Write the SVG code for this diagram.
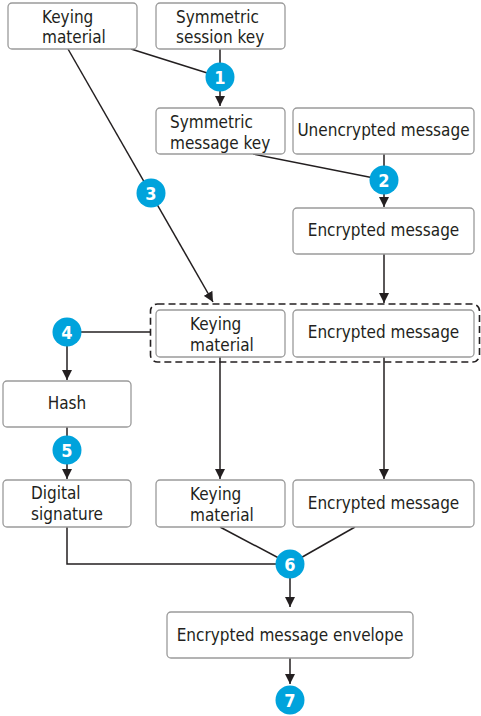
<svg xmlns="http://www.w3.org/2000/svg" width="481" height="716" viewBox="0 0 481 716">
<style>
.box{fill:#fff;stroke:#9a9a9a;stroke-width:1.3}
.t{font-family:"DejaVu Sans Condensed","Liberation Sans",Arial,sans-serif;font-stretch:condensed;font-size:17px;fill:#231f20}
.c{fill:#00a3dc}
.n{font-family:"DejaVu Sans Condensed","Liberation Sans",Arial,sans-serif;font-stretch:condensed;font-size:18px;font-weight:bold;fill:#fff;text-anchor:middle}
.ln{fill:none;stroke:#231f20;stroke-width:1.5}
.dash{fill:none;stroke:#231f20;stroke-width:1.6;stroke-dasharray:7 4}
</style>
<defs>
<marker id="ah" markerUnits="userSpaceOnUse" markerWidth="10" markerHeight="10" refX="9" refY="4.5" orient="auto" viewBox="0 0 9 9">
<path d="M0,0 L9,4.5 L0,9 z" fill="#231f20"/>
</marker>
</defs>
<g id="connectors">
<path class="ln" d="M131,49 L220,77"/>
<path class="ln" d="M220,49 L220,77"/>
<path class="ln" d="M220,77 L220,106" marker-end="url(#ah)"/>
<path class="ln" d="M253,154 L384,180"/>
<path class="ln" d="M384,154 L384,180"/>
<path class="ln" d="M384,180 L384,207" marker-end="url(#ah)"/>
<path class="ln" d="M68,49 L213,302" marker-end="url(#ah)"/>
<path class="ln" d="M384,254 L384,303" marker-end="url(#ah)"/>
<path class="ln" d="M150,332 L67,332"/>
<path class="ln" d="M67,332 L67,380" marker-end="url(#ah)"/>
<path class="ln" d="M67,427 L67,450"/>
<path class="ln" d="M67,450 L67,479" marker-end="url(#ah)"/>
<path class="ln" d="M220,357 L220,479" marker-end="url(#ah)"/>
<path class="ln" d="M384,357 L384,479" marker-end="url(#ah)"/>
<path class="ln" d="M67,527 L67,564 L290,564"/>
<path class="ln" d="M220,527 L290,564"/>
<path class="ln" d="M355,527 L290,564"/>
<path class="ln" d="M290,564 L290,607" marker-end="url(#ah)"/>
<path class="ln" d="M290,658 L290,684" marker-end="url(#ah)"/>
</g>
<g id="group-dashed">
<rect class="dash" x="150.5" y="304" width="329" height="58" rx="7"/>
</g>
<g id="keying-material-1">
<rect class="box" x="8" y="3" width="129" height="46" rx="4"/>
<text class="t" x="42" y="23">Keying</text>
<text class="t" x="42" y="43">material</text>
</g>
<g id="symmetric-session-key">
<rect class="box" x="156" y="3" width="129" height="46" rx="4"/>
<text class="t" x="176" y="23">Symmetric</text>
<text class="t" x="176" y="43">session key</text>
</g>
<g id="symmetric-message-key">
<rect class="box" x="156" y="108" width="129" height="46" rx="4"/>
<text class="t" x="170" y="128">Symmetric</text>
<text class="t" x="170" y="149">message key</text>
</g>
<g id="unencrypted-message">
<rect class="box" x="293" y="108" width="181" height="46" rx="4"/>
<text class="t" x="383.5" y="136" text-anchor="middle">Unencrypted message</text>
</g>
<g id="encrypted-message-1">
<rect class="box" x="293" y="208" width="181" height="46" rx="4"/>
<text class="t" x="383.5" y="236" text-anchor="middle">Encrypted message</text>
</g>
<g id="keying-material-2">
<rect class="box" x="156" y="310" width="129" height="47" rx="4"/>
<text class="t" x="190" y="330">Keying</text>
<text class="t" x="190" y="351">material</text>
</g>
<g id="encrypted-message-2">
<rect class="box" x="293" y="310" width="181" height="47" rx="4"/>
<text class="t" x="383.5" y="338" text-anchor="middle">Encrypted message</text>
</g>
<g id="hash">
<rect class="box" x="3" y="381" width="128" height="46" rx="4"/>
<text class="t" x="67" y="409" text-anchor="middle">Hash</text>
</g>
<g id="digital-signature">
<rect class="box" x="3" y="480" width="128" height="47" rx="4"/>
<text class="t" x="31" y="499">Digital</text>
<text class="t" x="31" y="520">signature</text>
</g>
<g id="keying-material-3">
<rect class="box" x="156" y="480" width="129" height="47" rx="4"/>
<text class="t" x="190" y="500">Keying</text>
<text class="t" x="190" y="521">material</text>
</g>
<g id="encrypted-message-3">
<rect class="box" x="293" y="480" width="181" height="47" rx="4"/>
<text class="t" x="383.5" y="509" text-anchor="middle">Encrypted message</text>
</g>
<g id="envelope">
<rect class="box" x="167" y="612" width="246" height="46" rx="4"/>
<text class="t" x="290" y="641" text-anchor="middle">Encrypted message envelope</text>
</g>
<g id="step-1"><circle class="c" cx="220" cy="77" r="14.5"/><text class="n" x="220" y="83.5">1</text></g>
<g id="step-2"><circle class="c" cx="384" cy="180" r="14.5"/><text class="n" x="384" y="186.5">2</text></g>
<g id="step-3"><circle class="c" cx="151" cy="193" r="14.5"/><text class="n" x="151" y="199.5">3</text></g>
<g id="step-4"><circle class="c" cx="67" cy="332" r="14.5"/><text class="n" x="67" y="338.5">4</text></g>
<g id="step-5"><circle class="c" cx="67" cy="450" r="14.5"/><text class="n" x="67" y="456.5">5</text></g>
<g id="step-6"><circle class="c" cx="290" cy="564" r="14.5"/><text class="n" x="290" y="570.5">6</text></g>
<g id="step-7"><circle class="c" cx="290" cy="700" r="14.5"/><text class="n" x="290" y="706.5">7</text></g>
</svg>
